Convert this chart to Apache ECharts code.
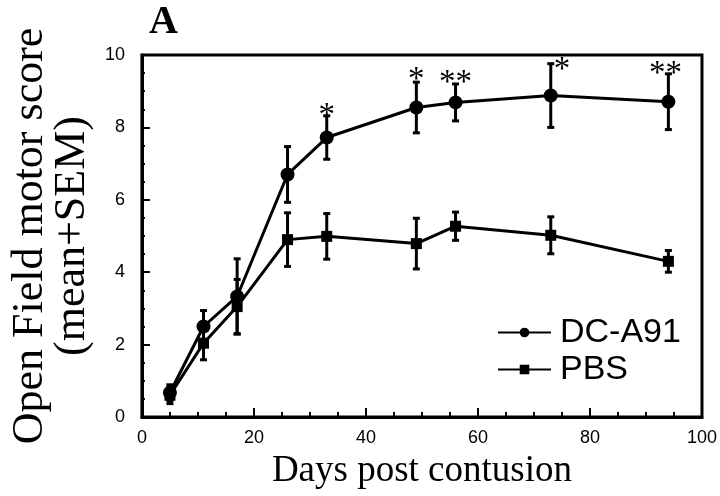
<!DOCTYPE html>
<html>
<head>
<meta charset="utf-8">
<script src="https://cdn.jsdelivr.net/npm/echarts@6/dist/echarts.min.js"></script>
<style>html,body{margin:0;padding:0;background:#fff}#c{width:720px;height:496px}</style>
</head>
<body>
<div id="c"></div>
<script>
const days = [5, 11, 17, 26, 33, 49, 56, 73, 94];
const dcMean = [0.67, 2.50, 3.33, 6.70, 7.72, 8.55, 8.69, 8.88, 8.71];
const dcSem  = [0.22, 0.44, 1.04, 0.77, 0.60, 0.70, 0.51, 0.88, 0.77];
const pbsMean = [0.60, 2.04, 3.05, 4.90, 4.99, 4.79, 5.27, 5.02, 4.30];
const pbsSem  = [0.23, 0.46, 0.75, 0.74, 0.63, 0.70, 0.39, 0.51, 0.30];
const starDays = [33, 49, 56, 75, 93.5];
const starLevels = [8.5, 9.5, 9.4, 9.76, 9.66];
const starMarks = ['*', '*', '**', '*', '**'];
const xTicks = [0, 20, 40, 60, 80, 100];
const yTicks = [0, 2, 4, 6, 8, 10];
const seriesNames = ['DC-A91', 'PBS'];

const chart = echarts.init(document.getElementById('c'), null, {renderer: 'canvas'});

function toPairs(xs, ys) { return xs.map((x, i) => [x, ys[i]]); }
function errData(xs, m, s) { return xs.map((x, i) => [x, m[i] - s[i], m[i] + s[i]]); }

function errRender(params, api) {
  const x = api.value(0);
  const lo = api.coord([x, api.value(1)]);
  const hi = api.coord([x, api.value(2)]);
  const cw = 3.5;
  const st = {stroke: '#000', lineWidth: 3};
  return {
    type: 'group',
    children: [
      {type: 'line', shape: {x1: lo[0], y1: lo[1], x2: hi[0], y2: hi[1]}, style: st},
      {type: 'line', shape: {x1: lo[0] - cw, y1: lo[1], x2: lo[0] + cw, y2: lo[1]}, style: st},
      {type: 'line', shape: {x1: hi[0] - cw, y1: hi[1], x2: hi[0] + cw, y2: hi[1]}, style: st}
    ]
  };
}

function starRender(params, api) {
  const p = api.coord([api.value(0), api.value(1)]);
  return {
    type: 'text',
    x: p[0], y: p[1] + 7,
    style: {
      text: starMarks[params.dataIndex],
      font: '33px "Liberation Serif", serif',
      fill: '#000',
      align: 'center',
      verticalAlign: 'middle'
    }
  };
}

const axisFont = {fontFamily: '"Liberation Sans", Arial, sans-serif', fontSize: 18, color: '#000'};

chart.setOption({
  animation: false,
  backgroundColor: '#fff',
  grid: {left: 133, right: 18, top: 55, bottom: 79, show: true, borderColor: '#000', borderWidth: 3},
  graphic: [{
    type: 'text', left: 149, top: 3,
    style: {text: 'A', font: 'bold 40px "Liberation Serif", serif', fill: '#000'}
  }],
  legend: {
    data: seriesNames,
    orient: 'vertical',
    left: 492, top: 309,
    itemWidth: 53, itemHeight: 12, itemGap: 0,
    lineStyle: {width: 2},
    textStyle: {fontFamily: '"Liberation Sans", Arial, sans-serif', fontSize: 34, color: '#000', lineHeight: 37, padding: [0, 0, 0, 4]},
    selectedMode: false
  },
  xAxis: {
    type: 'value', min: 0, max: 100, interval: 20,
    name: 'Days post contusion', nameLocation: 'middle', nameGap: 36,
    nameTextStyle: {fontFamily: '"Liberation Serif", serif', fontSize: 37, color: '#000'},
    axisLine: {lineStyle: {color: '#000', width: 3}},
    axisTick: {inside: true, length: 9, lineStyle: {color: '#000', width: 2}},
    minorTick: {show: true, splitNumber: 4, length: 5, lineStyle: {color: '#000', width: 2}},
    axisLabel: Object.assign({margin: 12, formatter: v => xTicks.includes(v) ? String(v) : ''}, axisFont),
    splitLine: {show: false}
  },
  yAxis: {
    type: 'value', min: 0, max: 10, interval: 2,
    name: 'Open Field motor score\n(mean+SEM)', nameLocation: 'middle', nameGap: 48, nameRotate: 90,
    nameTextStyle: {fontFamily: '"Liberation Serif", serif', fontSize: 44, color: '#000', lineHeight: 42},
    axisLine: {lineStyle: {color: '#000', width: 3}},
    axisTick: {inside: true, length: 8, lineStyle: {color: '#000', width: 2}},
    minorTick: {show: true, splitNumber: 4, length: 3, lineStyle: {color: '#000', width: 2}},
    axisLabel: Object.assign({margin: 17, formatter: v => yTicks.includes(v) ? String(v) : ''}, axisFont),
    splitLine: {show: false}
  },
  series: [
    {
      name: 'DC-A91', type: 'line', data: toPairs(days, dcMean),
      symbol: 'circle', symbolSize: 14, z: 3,
      lineStyle: {color: '#000', width: 3}, itemStyle: {color: '#000'}
    },
    {
      name: 'PBS', type: 'line', data: toPairs(days, pbsMean),
      symbol: 'rect', symbolSize: 11, z: 3,
      lineStyle: {color: '#000', width: 3}, itemStyle: {color: '#000'}
    },
    {type: 'custom', data: errData(days, dcMean, dcSem), renderItem: errRender, z: 2, silent: true},
    {type: 'custom', data: errData(days, pbsMean, pbsSem), renderItem: errRender, z: 2, silent: true},
    {type: 'custom', data: toPairs(starDays, starLevels), renderItem: starRender, z: 4, silent: true}
  ]
});
</script>
</body>
</html>
